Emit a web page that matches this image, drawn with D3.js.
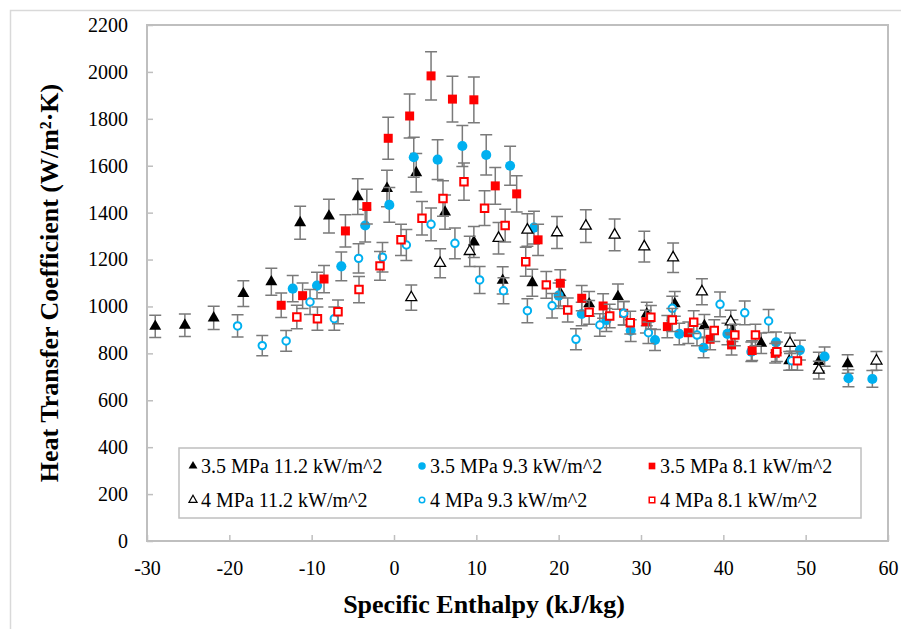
<!DOCTYPE html>
<html>
<head>
<meta charset="utf-8">
<script src="https://cdn.jsdelivr.net/npm/d3@7"></script>
<style>
  body { margin: 0; background: #fff; }
  svg { display: block; font-family: "Liberation Serif", "Times New Roman", serif; }
</style>
</head>
<body>
<div id="chart"></div>
<script>
// enthalpy (kJ/kg) and heat transfer coefficient (W/m2.K)
const s35_112_x = [-29, -25.4, -21.9, -18.3, -14.9, -11.4, -7.9, -4.4, -0.85, 2.7, 6.2, 9.7, 13.2, 16.8, 20.2, 23.7, 27.2, 30.7, 34.1, 37.7, 41.1, 44.6, 48.0, 51.6, 55.1];
const s35_112_y = [915, 920, 951, 1055, 1105, 1357, 1385, 1468, 1503, 1570, 1402, 1275, 1111, 1101, 1057, 1011, 1042, 968, 1011, 918, 897, 843, 768, 765, 755];

const s35_93_x = [-12.3, -9.35, -6.4, -3.5, -0.57, 2.4, 5.3, 8.3, 11.2, 14.1, 17.0, 20.0, 22.8, 25.8, 28.75, 31.7, 34.65, 37.6, 40.5, 43.4, 46.4, 49.3, 52.3, 55.2, 58.1];
const s35_93_y = [1076, 1089, 1171, 1345, 1433, 1636, 1626, 1684, 1646, 1600, 1336, 1046, 968, 942, 897, 857, 883, 824, 883, 807, 847, 814, 786, 694, 691];

const s35_81_x = [-13.7, -11.1, -8.5, -5.9, -3.3, -0.7, 1.9, 4.5, 7.1, 9.7, 12.3, 14.9, 17.5, 20.2, 22.8, 25.4, 27.9, 30.6, 33.2, 35.75, 38.4, 41.0, 43.5, 46.3];
const s35_81_y = [1005, 1046, 1117, 1322, 1426, 1717, 1812, 1983, 1884, 1881, 1514, 1480, 1284, 1099, 1035, 1002, 971, 935, 914, 888, 860, 836, 812, 800];

const s4_112_x = [2.1, 5.6, 9.2, 12.7, 16.2, 19.8, 23.3, 26.8, 30.4, 33.9, 37.4, 40.9, 48.1, 51.6, 58.6];
const s4_112_y = [1038, 1184, 1235, 1291, 1326, 1315, 1343, 1305, 1255, 1208, 1063, 935, 843, 729, 768];

const s4_93_x = [-19.0, -16.0, -13.1, -10.2, -7.25, -4.3, -1.4, 1.5, 4.5, 7.4, 10.4, 13.3, 16.2, 19.2, 22.1, 25.0, 27.9, 30.9, 33.8, 36.8, 39.6, 42.6, 45.5, 48.3];
const s4_93_y = [917, 833, 853, 1019, 948, 1205, 1210, 1262, 1350, 1269, 1113, 1067, 982, 1003, 860, 921, 971, 888, 992, 878, 1009, 973, 938, 769];

const s4_81_x = [-11.8, -9.3, -6.8, -4.25, -1.7, 0.85, 3.4, 5.95, 8.5, 11.0, 13.5, 16.0, 18.5, 21.1, 23.7, 26.2, 28.7, 31.2, 33.8, 36.4, 38.9, 41.4, 43.9, 46.5, 49.0];
const s4_81_y = [955, 948, 977, 1072, 1173, 1284, 1376, 1460, 1532, 1419, 1345, 1191, 1092, 985, 975, 959, 931, 954, 942, 933, 897, 878, 878, 807, 768];

// error bars are about +/- 5 % of each value
const errFrac = 0.052;

const seriesNames = ["3.5 MPa 11.2 kW/m^2", "3.5 MPa 9.3 kW/m^2", "3.5 MPa 8.1 kW/m^2",
                     "4 MPa 11.2 kW/m^2", "4 MPa 9.3 kW/m^2", "4 MPa 8.1 kW/m^2"];
const xTicks = [-30, -20, -10, 0, 10, 20, 30, 40, 50, 60];
const yTicks = [0, 200, 400, 600, 800, 1000, 1200, 1400, 1600, 1800, 2000, 2200];

const blue = "#00b0f0", red = "#ff0000";
const styles = [
  { type: d3.symbolTriangle, size: 62, fill: "#000", stroke: "none", sw: 0 },
  { type: d3.symbolCircle, size: 80, fill: blue, stroke: "none", sw: 0 },
  { type: d3.symbolSquare, size: 81, fill: red, stroke: "none", sw: 0 },
  { type: d3.symbolTriangle, size: 52, fill: "#fff", stroke: "#000", sw: 1.3 },
  { type: d3.symbolCircle, size: 44, fill: "#fff", stroke: blue, sw: 2 },
  { type: d3.symbolSquare, size: 56, fill: "#fff", stroke: red, sw: 2 }
];

const series = [
  [s35_112_x, s35_112_y], [s35_93_x, s35_93_y], [s35_81_x, s35_81_y],
  [s4_112_x, s4_112_y], [s4_93_x, s4_93_y], [s4_81_x, s4_81_y]
].map(([xs, ys], i) => ({
  name: seriesNames[i],
  style: styles[i],
  points: xs.map((x, j) => ({ x, y: ys[j] }))
}));

const width = 901, height = 629;
const plotL = 147, plotR = 888, plotT = 25, plotB = 541;

const x = d3.scaleLinear().domain([-30, 60]).range([plotL, plotR]);
const y = d3.scaleLinear().domain([0, 2200]).range([plotB, plotT]);

const svg = d3.select("#chart").append("svg")
  .attr("width", width)
  .attr("height", height);

// chart area border (runs off the picture on the right and bottom)
svg.append("rect")
  .attr("x", 10.5).attr("y", 10.5)
  .attr("width", 900).attr("height", 640)
  .attr("fill", "none").attr("stroke", "#d9d9d9").attr("stroke-width", 1.5);

// plot area frame
svg.append("rect")
  .attr("x", plotL).attr("y", plotT)
  .attr("width", plotR - plotL).attr("height", plotB - plotT)
  .attr("fill", "none").attr("stroke", "#bfbfbf").attr("stroke-width", 2);

// axes with inside ticks; plain hyphen for negatives like the original
const fmt = d => String(d);
const xAxis = svg.append("g")
  .attr("transform", `translate(0,${plotB})`)
  .call(d3.axisBottom(x).tickValues(xTicks).tickSize(-6).tickPadding(16).tickFormat(fmt));
const yAxis = svg.append("g")
  .attr("transform", `translate(${plotL},0)`)
  .call(d3.axisLeft(y).tickValues(yTicks).tickSize(-6).tickPadding(19).tickFormat(fmt));

[xAxis, yAxis].forEach(g => {
  g.select(".domain").remove();
  g.selectAll(".tick line").attr("stroke", "#bfbfbf").attr("stroke-width", 1.5);
  g.selectAll(".tick text")
    .attr("fill", "#000")
    .style("font-family", "'Liberation Serif', 'Times New Roman', serif")
    .style("font-size", "20px");
});
xAxis.selectAll(".tick text").attr("dy", "0.9em");

// series: error bars then markers
const sym = d3.symbol();
const capW = 6;
series.forEach(s => {
  const g = svg.append("g");
  const eb = g.append("g")
    .attr("stroke", "#7a7a7a").attr("stroke-width", 1.5).attr("fill", "none");
  eb.selectAll("path")
    .data(s.points)
    .join("path")
    .attr("d", d => {
      const px = x(d.x), y1 = y(d.y * (1 + errFrac)), y0 = y(d.y * (1 - errFrac));
      return `M${px},${y0}V${y1}M${px - capW},${y1}H${px + capW}M${px - capW},${y0}H${px + capW}`;
    });
  g.append("g").selectAll("path")
    .data(s.points)
    .join("path")
    .attr("transform", d => `translate(${x(d.x)},${y(d.y)})`)
    .attr("d", sym.type(s.style.type).size(s.style.size)())
    .attr("fill", s.style.fill)
    .attr("stroke", s.style.stroke)
    .attr("stroke-width", s.style.sw);
});

// legend
const legend = svg.append("g");
legend.append("rect")
  .attr("x", 179).attr("y", 448)
  .attr("width", 682).attr("height", 70)
  .attr("fill", "#fff").attr("stroke", "#bfbfbf").attr("stroke-width", 1.5);

const colX = [193, 422, 652];
const rowY = [466, 500];
const legSym = d3.symbol();
series.forEach((s, i) => {
  const cx = colX[i % 3], cy = rowY[Math.floor(i / 3)];
  const st = s.style;
  legend.append("path")
    .attr("transform", `translate(${cx},${cy})`)
    .attr("d", legSym.type(st.type).size(st.size * 0.55)())
    .attr("fill", st.fill)
    .attr("stroke", st.stroke)
    .attr("stroke-width", st.sw ? Math.max(1.2, st.sw * 0.75) : 0);
  legend.append("text")
    .attr("x", cx + 8).attr("y", cy)
    .attr("dy", "0.35em")
    .style("font-size", "20px")
    .text(s.name);
});

// axis titles
svg.append("text")
  .attr("x", 484).attr("y", 613)
  .attr("text-anchor", "middle")
  .style("font-size", "26px").style("font-weight", "bold")
  .text("Specific Enthalpy (kJ/kg)");

svg.append("text")
  .attr("transform", "translate(58,283) rotate(-90)")
  .attr("text-anchor", "middle")
  .style("font-size", "26px").style("font-weight", "bold")
  .text("Heat Transfer Coefficient (W/m²·K)");
</script>
</body>
</html>
